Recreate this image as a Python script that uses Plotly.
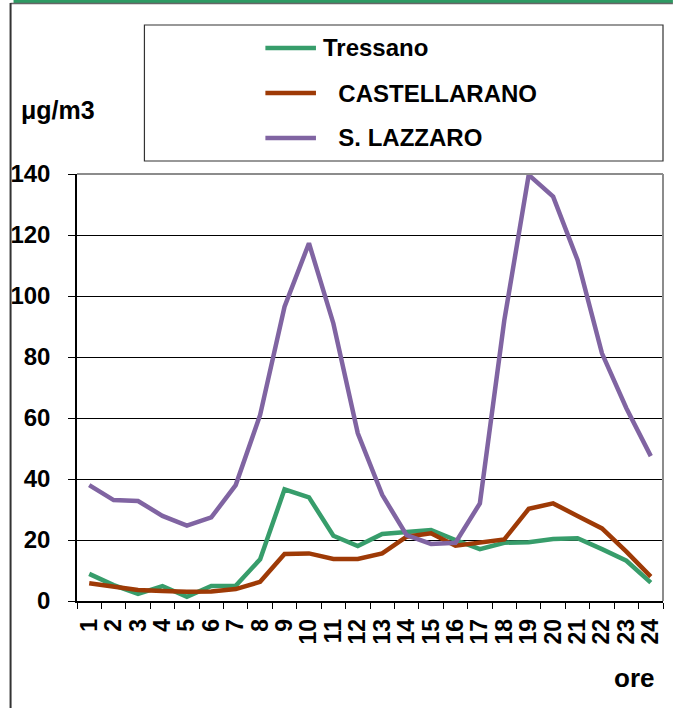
import plotly.graph_objects as go

# hours of the day
ore = [str(h) for h in range(1, 25)]

tressano = [8.9, 5.2, 2.3, 4.9, 1.4, 4.9, 5.0, 13.7, 36.6, 34.0, 21.4, 18.0,
            22.0, 22.5, 23.3, 20.0, 17.0, 19.1, 19.3, 20.3, 20.6, 17.0, 13.2, 6.0]
castellarano = [5.8, 4.7, 3.6, 3.3, 3.0, 3.1, 3.9, 6.3, 15.4, 15.6, 13.8, 13.8,
                15.6, 21.1, 22.2, 18.1, 19.1, 20.2, 30.2, 32.0, 27.9, 23.8, 16.2, 8.0]
s_lazzaro = [38.0, 33.1, 32.8, 27.9, 24.7, 27.4, 38.0, 61.0, 96.5, 117.3, 91.0, 55.0,
             34.8, 21.6, 18.7, 19.1, 32.0, 92.0, 139.7, 132.6, 111.8, 81.2, 63.2, 47.5]

names = ["Tressano", "\u00a0\u00a0CASTELLARANO", "\u00a0\u00a0S. LAZZARO"]
colors = ["#379D6B", "#9E3A06", "#8064A2"]
series = [tressano, castellarano, s_lazzaro]

W, H = 673, 708
L, R, T, B = 72, 663, 174, 601
FONT = "Liberation Sans, Arial, sans-serif"


def fx(px):
    return (px - L) / (R - L)


def fy(py):
    return (B - py) / (B - T)


fig = go.Figure()
for name, col, vals in zip(names, colors, series):
    fig.add_trace(go.Scatter(
        x=ore, y=vals, mode='lines', name=name.strip(),
        line=dict(color=col, width=4.5), showlegend=False
    ))

shapes = [
    # outer frame
    dict(type='rect', xref='paper', yref='paper', x0=fx(8), x1=fx(673), y0=fy(3), y1=fy(0),
         fillcolor='#2E9A63', line=dict(width=0)),
    dict(type='line', xref='paper', yref='paper', x0=fx(5), x1=fx(673), y0=fy(3.5), y1=fy(3.5),
         line=dict(color='#666666', width=1.5)),
    dict(type='line', xref='paper', yref='paper', x0=fx(5), x1=fx(5), y0=fy(3), y1=fy(708),
         line=dict(color='#333333', width=2)),
    # plot area top / right border
    dict(type='line', xref='paper', yref='paper', x0=0, x1=1, y0=1, y1=1,
         line=dict(color='#8C8C8C', width=2)),
    dict(type='line', xref='paper', yref='paper', x0=1, x1=1, y0=0, y1=1,
         line=dict(color='#8C8C8C', width=2)),
    # legend box
    dict(type='rect', xref='paper', yref='paper', x0=fx(140), x1=fx(663), y0=fy(161), y1=fy(25),
         line=dict(color='#333333', width=1.2), fillcolor='rgba(0,0,0,0)'),
]

annotations = [
    dict(text='μg/m3', xref='paper', yref='paper', x=fx(14), y=fy(110),
         xanchor='left', yanchor='middle', showarrow=False,
         font=dict(family=FONT, size=25, color='black', weight='bold')),
    dict(text='ore', xref='paper', yref='paper', x=fx(656), y=fy(678),
         xanchor='right', yanchor='middle', showarrow=False,
         font=dict(family=FONT, size=26, color='black', weight='bold')),
]

# legend entries
leg_y = [48, 93, 138]
leg_text_x = [318, 320, 320]
for name, col, ly, tx in zip(names, colors, leg_y, leg_text_x):
    shapes.append(dict(type='line', xref='paper', yref='paper', x0=fx(262), x1=fx(313),
                       y0=fy(ly), y1=fy(ly), line=dict(color=col, width=4.5)))
    annotations.append(dict(text=name, xref='paper', yref='paper', x=fx(tx), y=fy(ly),
                            xanchor='left', yanchor='middle', showarrow=False,
                            font=dict(family=FONT, size=24, color='black', weight='bold')))

fig.update_layout(
    width=W, height=H,
    margin=dict(l=L, r=W - R, t=T, b=H - B),
    paper_bgcolor='white', plot_bgcolor='white',
    shapes=shapes, annotations=annotations,
    xaxis=dict(
        type='category', range=[-0.5, 23.5], tickson='boundaries',
        tickmode='array', tickvals=ore, ticktext=ore,
        ticks='outside', ticklen=6, tickcolor='black', tickwidth=1,
        showline=True, linecolor='black', linewidth=1.5,
        showgrid=False, tickangle=-90,
        tickfont=dict(family=FONT, size=23, color='black', weight='bold'),
        ticklabelstandoff=7,
    ),
    yaxis=dict(
        range=[0, 140], dtick=20, ticks='outside', ticklen=7,
        tickcolor='black', tickwidth=1,
        showline=True, linecolor='black', linewidth=1.5,
        showgrid=True, gridcolor='black', gridwidth=1, zeroline=False,
        tickfont=dict(family=FONT, size=24, color='black', weight='bold'),
        ticklabelstandoff=13,
    ),
)

fig.write_html("out.html", config={'displayModeBar': False},
               post_script="document.body.style.margin='0';")
